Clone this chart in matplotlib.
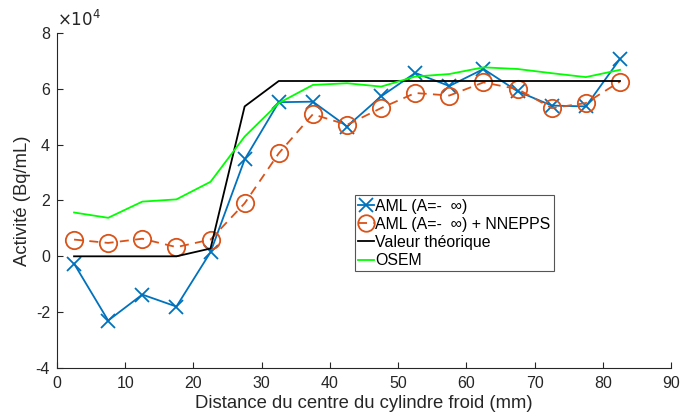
import numpy as np
import matplotlib
matplotlib.use("Agg")
import matplotlib.pyplot as plt
from matplotlib.ticker import FuncFormatter

plt.rcParams['font.family'] = ['Liberation Sans', 'DejaVu Sans']
plt.rcParams['axes.unicode_minus'] = False

x = [2.5, 7.5, 12.5, 17.5, 22.5, 27.5, 32.5, 37.5, 42.5, 47.5, 52.5, 57.5,
     62.5, 67.5, 72.5, 77.5, 82.5]
aml = [-0.26, -2.3, -1.37, -1.8, 0.15, 3.47, 5.52, 5.54, 4.65, 5.73, 6.57, 6.1,
       6.71, 5.91, 5.40, 5.37, 7.07]
aml_nnepps = [0.6, 0.48, 0.63, 0.33, 0.6, 1.9, 3.69, 5.09, 4.71, 5.31, 5.85, 5.76,
              6.23, 5.99, 5.31, 5.49, 6.26]
theorique = [0, 0, 0, 0, 0.28, 5.37, 6.28, 6.28, 6.28, 6.28, 6.28, 6.28,
             6.28, 6.28, 6.28, 6.28, 6.28]
osem = [1.57, 1.38, 1.96, 2.04, 2.67, 4.29, 5.49, 6.14, 6.2, 6.08, 6.44, 6.53,
        6.77, 6.71, 6.56, 6.42, 6.68]
scale = 1e4

labels = ['AML (A=-  \u221e)', 'AML (A=-  \u221e) + NNEPPS', 'Valeur théorique', 'OSEM']

fig = plt.figure(figsize=(6.8, 4.16), dpi=100)
ax = fig.add_axes([0.0838, 0.1154, 0.9032, 0.8053])

s = lambda v: np.array(v) * scale
ax.plot(x, s(aml), color='#0072BD', lw=1.3, marker='x', ms=10, mew=1.3, label=labels[0])
ax.plot(x, s(aml_nnepps), color='#D95319', lw=1.3, ls=(0, (5, 3.5)), marker='o', ms=12.5,
        mfc='none', mew=1.3, label=labels[1])
ax.plot(x, s(theorique), color='black', lw=1.3, label=labels[2])
ax.plot(x, s(osem), color='#00FF00', lw=1.3, label=labels[3])

ax.set_xlim(0, 90)
ax.set_ylim(-4e4, 8e4)
ax.set_xticks(np.arange(0, 91, 10))
ax.set_yticks(np.arange(-4e4, 8.1e4, 2e4))
ax.yaxis.set_major_formatter(FuncFormatter(lambda v, p: '%g' % (v / scale)))
ax.text(0.0, 1.012, r'$\times10^{4}$', transform=ax.transAxes, ha='left', va='bottom',
        fontsize=12, color='#262626')

for sp in ['top', 'right']:
    ax.spines[sp].set_visible(False)
for sp in ['left', 'bottom']:
    ax.spines[sp].set_color('#262626')
    ax.spines[sp].set_linewidth(0.8)
ax.tick_params(direction='in', length=4, width=0.8, colors='#262626', labelsize=11.5,
               labelcolor='#262626')
ax.tick_params(axis='x', pad=6)
ax.tick_params(axis='y', pad=5)

ax.set_xlabel('Distance du centre du cylindre froid (mm)', fontsize=13.3, color='#262626', labelpad=3)
ax.set_ylabel('Activité (Bq/mL)', fontsize=13.3, color='#262626', labelpad=3)

leg = ax.legend(loc='upper left', bbox_to_anchor=(0.485, 0.515), fontsize=11.4,
                handlelength=1.0, handletextpad=0.1, borderpad=0.2, labelspacing=0.2,
                markerscale=0.95, fancybox=False, framealpha=1, edgecolor='#555555',
                borderaxespad=0)
leg.get_frame().set_linewidth(0.8)

fig.savefig('out.png', dpi=100)
